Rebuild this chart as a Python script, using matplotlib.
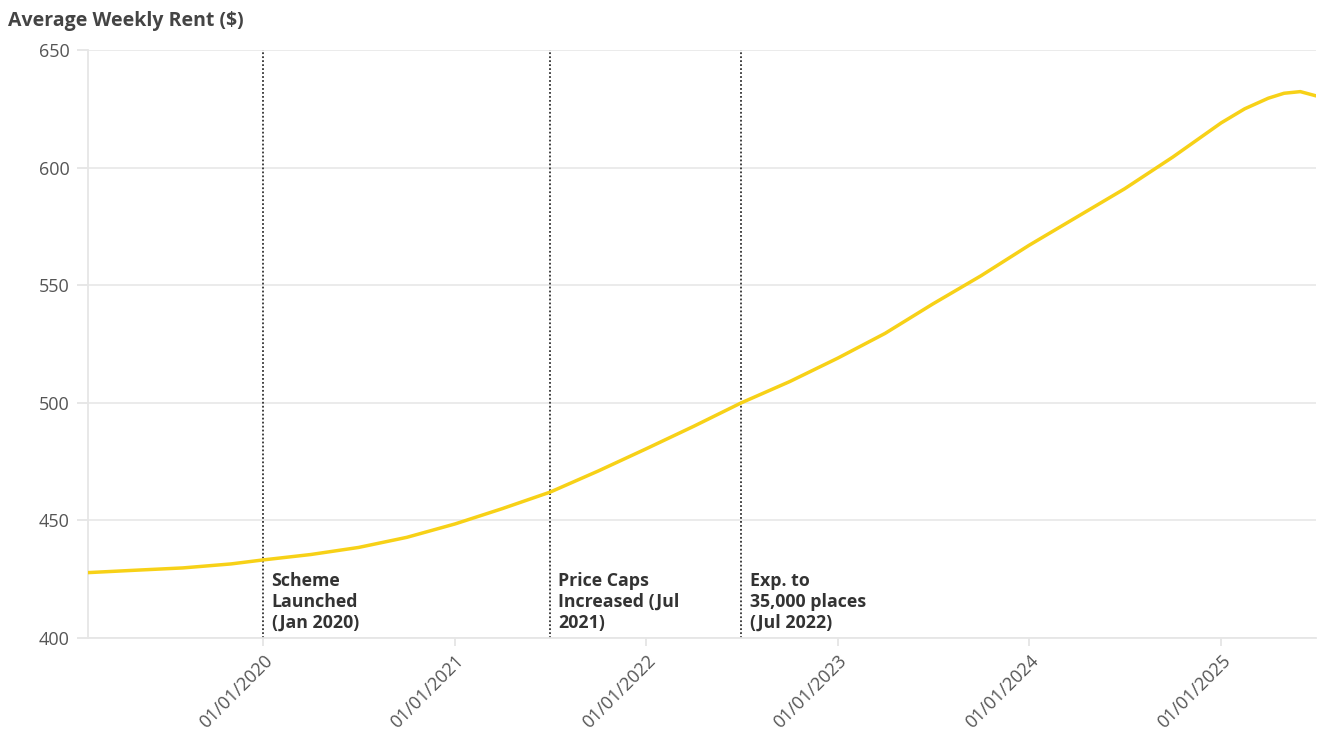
import pandas as pd
import matplotlib.pyplot as plt
import matplotlib.dates as mdates

# Average weekly rent, sampled roughly quarterly
dates = [
    "2019-02-01", "2019-05-01", "2019-08-01", "2019-11-01", "2020-01-01",
    "2020-04-01", "2020-07-01", "2020-10-01", "2021-01-01", "2021-04-01",
    "2021-07-01", "2021-10-01", "2022-01-01", "2022-04-01", "2022-07-01",
    "2022-10-01", "2023-01-01", "2023-04-01", "2023-07-01", "2023-10-01",
    "2024-01-01", "2024-04-01", "2024-07-01", "2024-10-01", "2025-01-01",
    "2025-02-15", "2025-04-01", "2025-05-01", "2025-06-01", "2025-07-01",
]
rent = [
    427.8, 428.8, 429.8, 431.5, 433.2,
    435.5, 438.5, 442.8, 448.5, 455.0,
    462.0, 471.0, 480.5, 490.0, 500.0,
    509.0, 519.0, 529.5, 542.0, 554.0,
    567.0, 579.0, 591.0, 604.5, 619.0,
    625.0, 629.5, 631.6, 632.3, 630.5,
]

event_dates = ["2020-01-01", "2021-07-01", "2022-07-01"]
event_labels = [
    "Scheme\nLaunched\n(Jan 2020)",
    "Price Caps\nIncreased (Jul\n2021)",
    "Exp. to\n35,000 places\n(Jul 2022)",
]

tick_years = [2020, 2021, 2022, 2023, 2024, 2025]
y_ticks = [400, 450, 500, 550, 600, 650]

plt.rcParams['font.family'] = ['Open Sans', 'DejaVu Sans']

x = pd.to_datetime(dates)
fig = plt.figure(figsize=(13.18, 7.33), dpi=100)
ax = fig.add_axes([0.0668, 0.1296, 0.9317, 0.8022])

ax.plot(x, rent, color='#F7D117', lw=2.5, solid_capstyle='round',
        solid_joinstyle='round', zorder=3)

for d, lab in zip(pd.to_datetime(event_dates), event_labels):
    ax.axvline(d, color='#333333', ls=(0, (1, 1.2)), lw=1.3, zorder=2)
    ax.text(d + pd.Timedelta(days=16), 402.5, lab, fontsize=12.8,
            fontweight='bold', color='#333333', va='bottom', ha='left',
            linespacing=1.22)

ax.set_xlim(x[0], x[-1])
ax.set_ylim(400, 650)
ax.set_yticks(y_ticks)
ax.set_xticks([pd.Timestamp(f"{yr}-01-01") for yr in tick_years])
ax.xaxis.set_major_formatter(mdates.DateFormatter('%d/%m/%Y'))

ax.grid(axis='y', color='#e9e9e9', lw=1.3)
ax.set_axisbelow(True)
for side in ['top', 'right']:
    ax.spines[side].set_visible(False)
for side in ['left', 'bottom']:
    ax.spines[side].set_color('#e6e6e6')
    ax.spines[side].set_linewidth(1.3)

ax.tick_params(axis='y', colors='#e3e3e3', labelcolor='#555555',
               labelsize=13, length=8, width=1.2, pad=5)
ax.tick_params(axis='x', colors='#e3e3e3', labelcolor='#555555',
               labelsize=13, length=6, width=1.2, pad=4)
for lbl in ax.get_xticklabels():
    lbl.set_rotation(45)
    lbl.set_ha('right')
    lbl.set_rotation_mode('anchor')

fig.text(0.006, 0.972, "Average Weekly Rent ($)", fontsize=14,
         fontweight='bold', color='#444444', va='center', ha='left')

fig.savefig('out.png', dpi=100, facecolor='white')
